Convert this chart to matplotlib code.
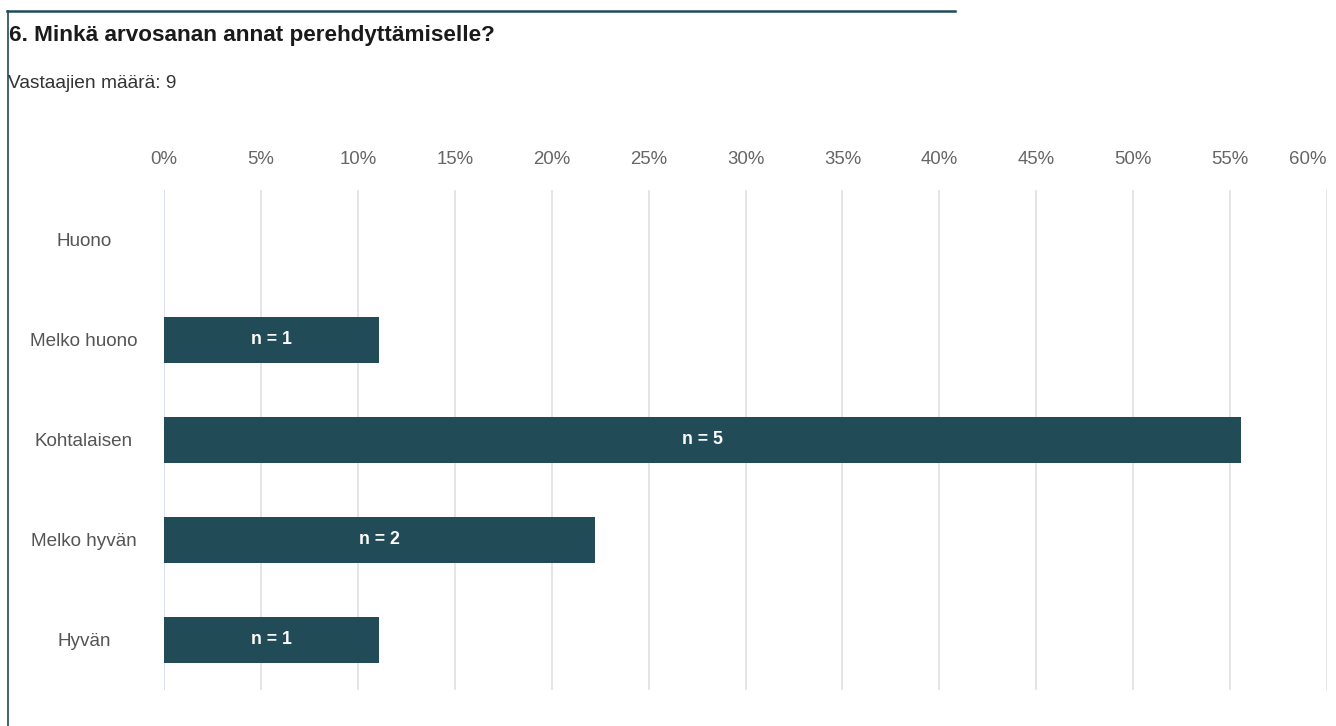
import matplotlib
matplotlib.use("Agg")
import matplotlib.pyplot as plt
from matplotlib.lines import Line2D

# Survey data
categories = ["Huono", "Melko huono", "Kohtalaisen", "Melko hyvän", "Hyvän"]
counts = [0, 1, 5, 2, 1]
respondents = 9
percentages = [c / respondents * 100 for c in counts]
tick_values = [0, 5, 10, 15, 20, 25, 30, 35, 40, 45, 50, 55, 60]
tick_labels = [f"{v}%" for v in tick_values]

title = "6. Minkä arvosanan annat perehdyttämiselle?"
subtitle = f"Vastaajien määrä: {respondents}"

bar_color = "#224b58"
frame_color = "#1f4a5a"
grid_color = "#e3e3e3"

plt.rcParams["font.family"] = ["Liberation Sans", "DejaVu Sans"]

W, H = 1336, 726
fig = plt.figure(figsize=(W / 100, H / 100), dpi=100)

# Panel frame: top rule and left rule
fig.add_artist(Line2D([7 / W, 955 / W], [1 - 11 / H, 1 - 11 / H],
                      transform=fig.transFigure, color=frame_color, lw=1.8))
fig.add_artist(Line2D([8 / W, 8 / W], [0, 1 - 11 / H],
                      transform=fig.transFigure, color=frame_color, lw=1.2))

fig.text(9 / W, 1 - 41 / H, title, fontsize=16.2, fontweight="bold",
         color="#1a1a1a", va="baseline", ha="left")
fig.text(8 / W, 1 - 88 / H, subtitle, fontsize=13.8, color="#333333",
         va="baseline", ha="left")

left, right = 164 / W, 1327 / W
bottom, top = 1 - 690 / H, 1 - 190 / H
ax = fig.add_axes([left, bottom, right - left, top - bottom])

y = list(range(len(categories)))
bars = ax.barh(y, percentages, height=0.46, color=bar_color, zorder=3)
for yi, p, c in zip(y, percentages, counts):
    if c > 0:
        ax.text(p / 2, yi, f"n = {c}", ha="center", va="center",
                color="white", fontsize=12.8, fontweight="bold", zorder=4)

ax.set_xlim(0, 60)
ax.set_ylim(len(categories) - 0.5, -0.5)

for v in tick_values:
    ax.axvline(v, color="#d9dfea" if v == 0 else grid_color, lw=1.3, zorder=1)

ax.xaxis.tick_top()
ax.set_xticks(tick_values)
ax.set_xticklabels(tick_labels, fontsize=13.4, color="#666666")
ax.tick_params(axis="x", length=0, pad=16)
last = ax.get_xticklabels()[-1]
last.set_ha("right")

ax.set_yticks(y)
ax.set_yticklabels(categories, fontsize=13.6, color="#555555", ha="center")
ax.tick_params(axis="y", length=0, pad=57.6)

for s in ax.spines.values():
    s.set_visible(False)

fig.savefig("out.png", dpi=100, facecolor="white")
